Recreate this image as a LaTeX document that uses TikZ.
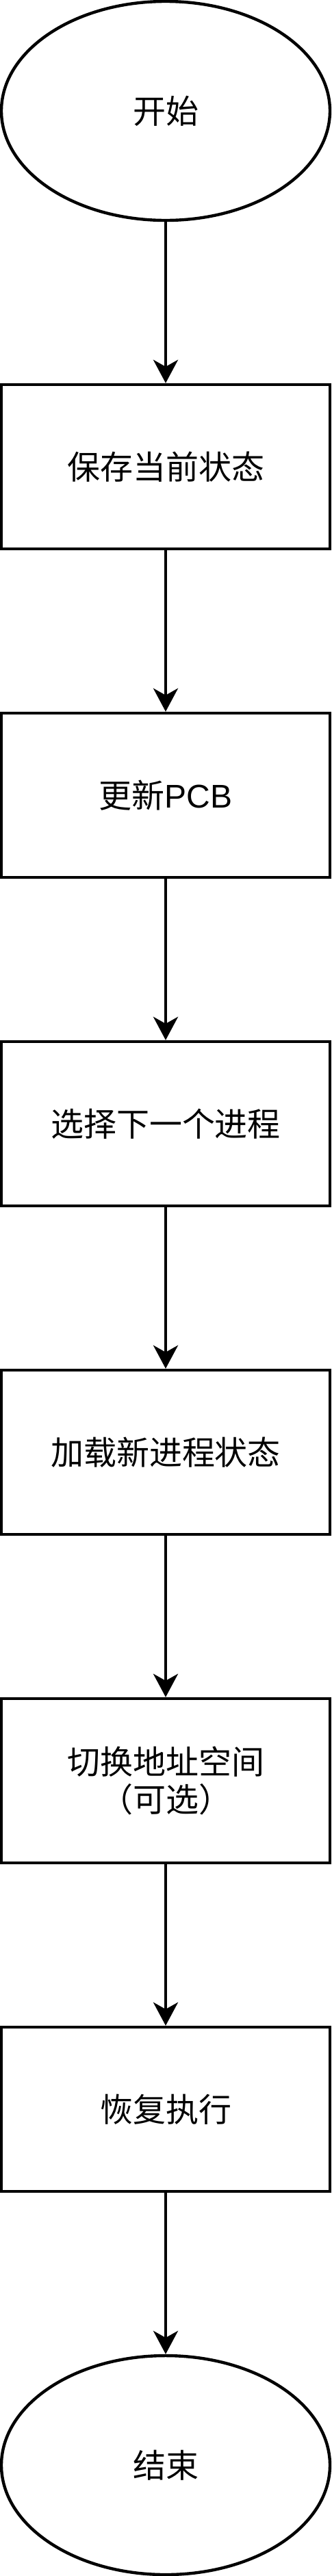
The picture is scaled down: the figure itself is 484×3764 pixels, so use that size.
\documentclass[tikz,border=0pt]{standalone}
\usepackage{fontspec}
\setmainfont{Noto Sans CJK SC}
\newfontfamily\latinfont{Liberation Sans}
\usetikzlibrary{shapes.geometric,arrows.meta}
\tikzset{
  procbox/.style={draw=black, line width=2.2pt, rectangle, minimum width=240pt, minimum height=120pt, inner sep=0pt, align=center, font=\fontsize{24pt}{27.5pt}\selectfont},
  termnode/.style={draw=black, line width=2.2pt, ellipse, minimum width=240pt, minimum height=160pt, inner sep=0pt, font=\fontsize{24pt}{27.5pt}\selectfont},
  flow/.style={line width=2.2pt, -{Stealth[length=17pt,width=18pt,inset=5pt]}}
}
\begin{document}
\begin{tikzpicture}[x=0.5pt,y=-0.5pt]
\useasboundingbox (0,0) rectangle (484,3764);
\node[termnode] (start) at (242,162) {开始};
\node[procbox] (b1) at (242,682) {保存当前状态};
\node[procbox] (b2) at (242,1162) {更新{\latinfont PCB}};
\node[procbox] (b3) at (242,1642) {选择下一个进程};
\node[procbox] (b4) at (242,2122) {加载新进程状态};
\node[procbox] (b5) at (242,2602) {切换地址空间\\（可选）};
\node[procbox] (b6) at (242,3082) {恢复执行};
\node[termnode] (end) at (242,3602) {结束};
\draw[flow] (start) -- (b1);
\draw[flow] (b1) -- (b2);
\draw[flow] (b2) -- (b3);
\draw[flow] (b3) -- (b4);
\draw[flow] (b4) -- (b5);
\draw[flow] (b5) -- (b6);
\draw[flow] (b6) -- (end);
\end{tikzpicture}
\end{document}
